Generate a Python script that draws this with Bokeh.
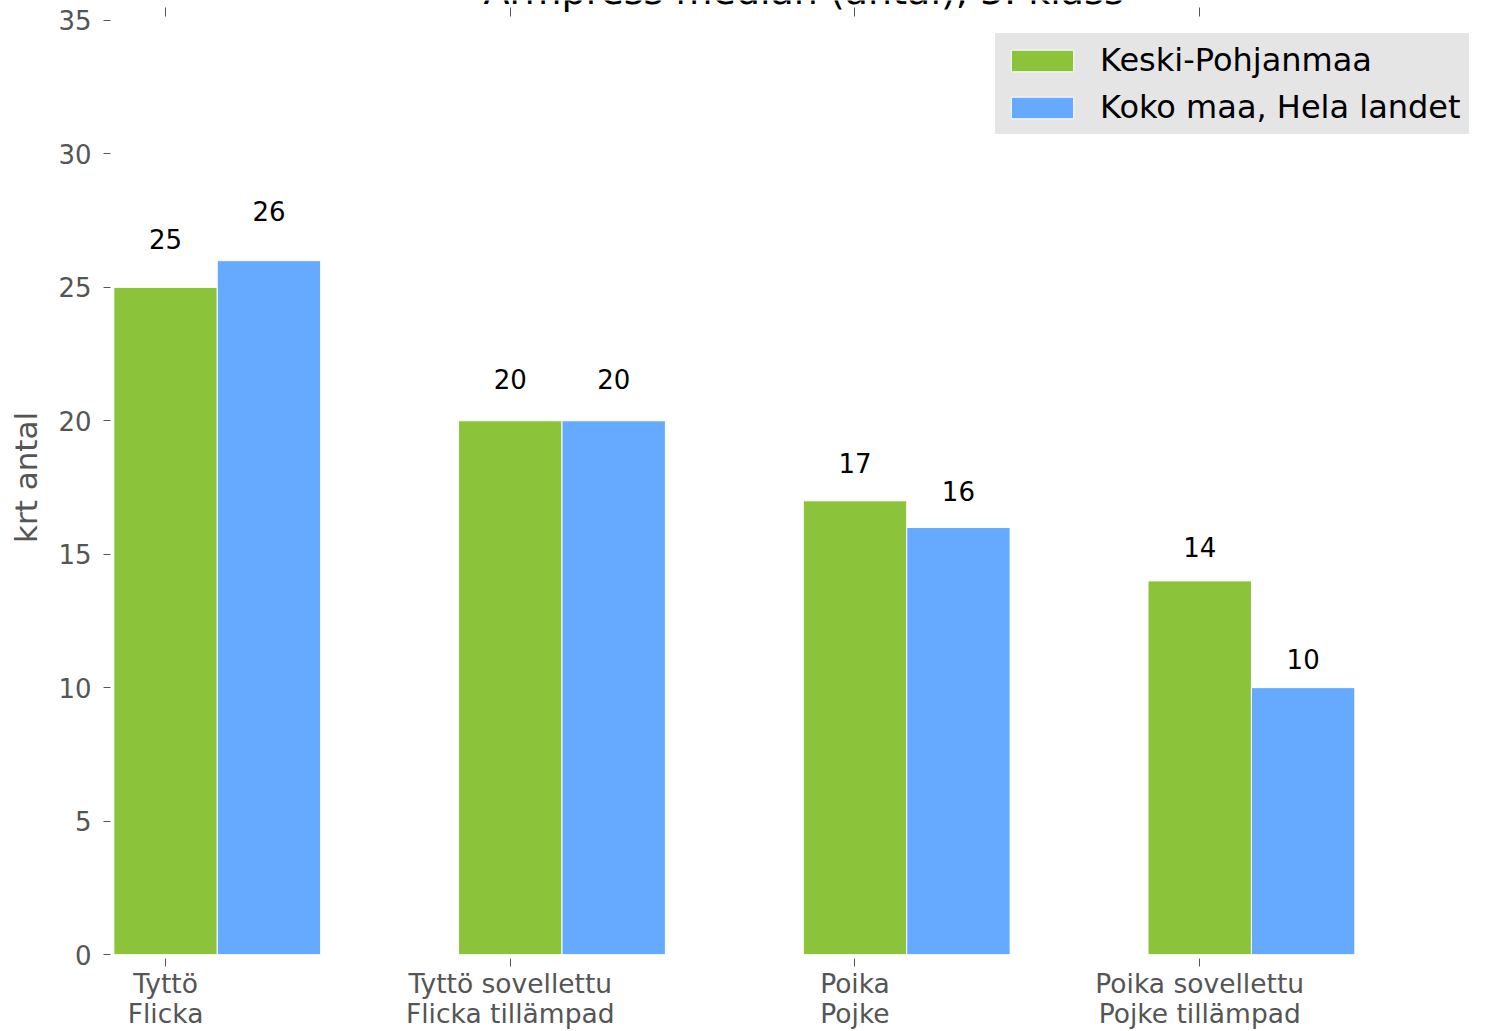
from bokeh.plotting import figure
from bokeh.models import (Range1d, FixedTicker, LinearAxis, ColumnDataSource, Legend)
from bokeh.transform import dodge
from bokeh.core.properties import value
from bokeh.embed import file_html
from bokeh.resources import INLINE

categories = ["Tyttö\nFlicka", "Tyttö sovellettu\nFlicka tillämpad",
              "Poika\nPojke", "Poika sovellettu\nPojke tillämpad"]
keski_pohjanmaa = [25, 20, 17, 14]
koko_maa = [26, 20, 16, 10]
series_names = ["Keski-Pohjanmaa", "Koko maa, Hela landet"]
title_text = "Armpress median (antal), 5. klass"
y_label = "krt antal"
y_ticks = [0, 5, 10, 15, 20, 25, 30, 35]

FONT = "DejaVu Sans"
GREEN = "#8bc33a"
BLUE = "#66aaff"
GRAY = "#555555"
LEGEND_BG = "#e5e5e5"
BAR_W = 0.3
LABEL_SCALE = 1.05     # value labels sit at 1.05 x bar height
LABEL_PAD = 0.562
X0, X1 = -0.151, 3.80
Y_TOP = 35.749          # room above 35 for the (cropped) title

idx = list(range(len(categories)))
src = ColumnDataSource(dict(
    x=idx,
    a=keski_pohjanmaa,
    b=koko_maa,
    a_lab=[str(v) for v in keski_pohjanmaa],
    b_lab=[str(v) for v in koko_maa],
    a_y=[v * LABEL_SCALE + LABEL_PAD for v in keski_pohjanmaa],
    b_y=[v * LABEL_SCALE + LABEL_PAD for v in koko_maa],
))

p = figure(width=1486, height=1031, output_backend="svg", toolbar_location=None,
           x_range=Range1d(X0, X1), y_range=Range1d(0, Y_TOP),
           min_border_left=113, min_border_right=11, min_border_top=0, min_border_bottom=77)
p.outline_line_color = None
p.xgrid.visible = False
p.ygrid.visible = False
p.background_fill_color = "white"
p.border_fill_color = "white"

r1 = p.vbar(x="x", top="a", width=BAR_W, source=src, fill_color=GREEN,
            line_color="white", line_width=1)
r2 = p.vbar(x=dodge("x", BAR_W), top="b", width=BAR_W, source=src, fill_color=BLUE,
            line_color="white", line_width=1)

p.text(x="x", y="a_y", text="a_lab", source=src, text_align="center",
       text_baseline="alphabetic", text_font=value(FONT), text_font_size="26px",
       text_color="black")
p.text(x=dodge("x", BAR_W), y="b_y", text="b_lab", source=src, text_align="center",
       text_baseline="alphabetic", text_font=value(FONT), text_font_size="26px",
       text_color="black")

# title, cropped by the top edge as in the reference
p.text(x=[1.851], y=[36.10], text=[title_text], text_align="center",
       text_baseline="alphabetic", text_font=value(FONT), text_font_size="38px",
       text_color="black")

# x axis
xa = p.xaxis[0]
xa.ticker = FixedTicker(ticks=idx)
xa.major_label_overrides = {i: c for i, c in zip(idx, categories)}
xa.axis_line_color = None
xa.major_tick_in = -4
xa.major_tick_out = 12
xa.major_tick_line_color = GRAY
xa.minor_tick_line_color = None
xa.major_label_standoff = 1
xa.major_label_text_font = FONT
xa.major_label_text_font_size = "26.5px"
xa.major_label_text_color = GRAY
xa.major_label_text_line_height = 0.975

# y axis
ya = p.yaxis[0]
ya.ticker = FixedTicker(ticks=y_ticks)
ya.axis_line_color = None
ya.major_tick_in = -3
ya.major_tick_out = 10
ya.major_tick_line_color = GRAY
ya.minor_tick_line_color = None
ya.major_label_standoff = 12
ya.major_label_text_font = FONT
ya.major_label_text_font_size = "26px"
ya.major_label_text_color = GRAY
ya.axis_label = y_label
ya.axis_label_text_font = FONT
ya.axis_label_text_font_size = "31px"
ya.axis_label_text_font_style = "normal"
ya.axis_label_text_color = GRAY
ya.axis_label_standoff = 11

# top tick marks (drawn inside the extended frame, 7..16 px from the top)
top = LinearAxis(ticker=FixedTicker(ticks=idx), axis_line_color=None,
                 major_tick_in=16, major_tick_out=0, major_tick_line_color=GRAY,
                 major_tick_line_dash="0 7 9 100",
                 minor_tick_line_color=None, major_label_text_font_size="0px",
                 major_label_standoff=0)
p.add_layout(top, "above")

legend = Legend(items=[(series_names[0], [r1]), (series_names[1], [r2])],
                location=(882, 820))
legend.background_fill_color = LEGEND_BG
legend.background_fill_alpha = 1.0
# a border of the background colour gives the inner spacing around the items
legend.border_line_color = LEGEND_BG
legend.border_line_width = 8
legend.label_text_font = FONT
legend.label_text_font_size = "32px"
legend.label_text_color = "black"
legend.glyph_width = 78
legend.glyph_height = 27
legend.label_standoff = 19
legend.padding = 0
legend.spacing = 9
legend.margin = 0
p.add_layout(legend, "center")

open("out.html", "w").write(file_html(p, INLINE))
